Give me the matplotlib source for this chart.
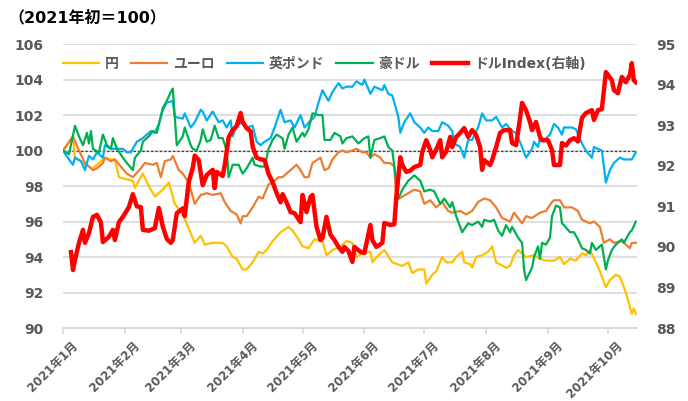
import numpy as np
import pandas as pd
import matplotlib
matplotlib.use("Agg")
import matplotlib.pyplot as plt
import matplotlib.dates as mdates
import matplotlib.transforms as mtransforms

plt.rcParams['font.family'] = ['DejaVu Sans', 'Noto Sans CJK JP']

# days counted from 2021-01-01
yen_day = [0, 5, 6, 9, 11, 15, 19, 21, 24, 26,
           28, 31, 35, 36, 40, 43, 46, 50, 53, 56,
           60, 63, 66, 69, 71, 75, 80, 82, 85, 87,
           90, 92, 95, 98, 100, 102, 105, 109, 113, 115,
           118, 120, 123, 126, 130, 132, 135, 139, 142, 145,
           147, 150, 154, 155, 158, 161, 165, 170, 173, 175,
           178, 181, 182, 185, 187, 190, 192, 195, 197, 200,
           201, 204, 205, 207, 210, 213, 215, 217, 222, 224,
           226, 228, 232, 236, 239, 242, 246, 249, 251, 254,
           257, 260, 262, 264, 267, 269, 272, 274, 277, 279,
           282, 285, 286, 287]
yen = [100, 100.8, 99.6, 99.4, 99.2, 99.0, 99.4, 99.6, 99.5, 99.5,
       98.5, 98.4, 98.3, 97.9, 98.7, 98.0, 97.4, 97.8, 98.2, 97.0,
       96.4, 95.6, 94.8, 95.2, 94.7, 94.8, 94.8, 94.6, 94.0, 93.9,
       93.3, 93.3, 93.7, 94.3, 94.2, 94.4, 94.9, 95.4, 95.7, 95.5,
       95.0, 94.6, 94.5, 95.0, 94.9, 94.1, 94.4, 94.6, 94.9, 94.8,
       94.0, 94.2, 94.3, 93.7, 94.1, 94.4, 93.7, 93.5, 93.7, 93.1,
       93.3, 93.3, 92.5, 93.0, 93.2, 94.0, 93.7, 93.7, 94.0, 94.3,
       93.7, 93.6, 93.4, 94.0, 94.1, 94.3, 94.6, 93.7, 93.4, 93.5,
       94.1, 94.4, 94.0, 94.1, 93.9, 93.8, 93.8, 94.0, 93.6, 93.9,
       93.8, 94.2, 94.1, 94.4, 93.7, 93.2, 92.3, 92.7, 93.0, 92.9,
       92.0, 90.8, 91.1, 90.8]

eur_day = [0, 5, 8, 11, 15, 17, 20, 21, 24, 26,
           29, 32, 35, 39, 41, 45, 47, 49, 51, 54,
           55, 58, 60, 63, 66, 69, 72, 75, 79, 81,
           84, 87, 89, 90, 92, 95, 98, 100, 103, 105,
           108, 110, 114, 117, 119, 121, 123, 125, 129, 131,
           133, 135, 138, 140, 142, 145, 147, 150, 152, 154,
           156, 159, 161, 164, 166, 167, 170, 173, 176, 179,
           181, 184, 187, 190, 193, 195, 199, 202, 205, 208,
           211, 214, 217, 220, 224, 226, 230, 232, 235, 239,
           242, 245, 246, 249, 251, 255, 258, 260, 264, 266,
           269, 271, 274, 276, 280, 282, 284, 285, 287]
eur = [100, 100.8, 100.0, 99.3, 98.9, 99.0, 99.3, 99.6, 99.4, 99.5,
       99.1, 98.7, 98.5, 99.0, 99.3, 99.2, 99.3, 98.5, 99.4, 99.5,
       99.7, 98.9, 98.7, 98.2, 97.0, 97.5, 97.6, 97.5, 97.6, 97.1,
       96.6, 96.4, 95.9, 96.3, 96.3, 96.8, 97.4, 97.3, 98.1, 98.2,
       98.5, 98.5, 98.9, 99.2, 98.9, 98.5, 98.5, 99.3, 99.6, 98.9,
       99.0, 99.5, 99.9, 100.0, 99.9, 100.0, 100.1, 99.9, 99.9, 99.6,
       99.8, 99.6, 99.3, 99.3, 99.1, 97.2, 97.4, 97.6, 97.8, 97.7,
       97.0, 97.2, 96.8, 97.1, 96.6, 96.5, 96.6, 96.4, 96.6, 97.1,
       97.3, 97.2, 96.8, 96.2, 96.0, 96.5, 95.9, 96.3, 96.2, 96.5,
       96.6, 97.1, 97.2, 97.2, 96.8, 96.8, 96.6, 96.1, 95.9, 96.0,
       95.7, 94.8, 95.0, 94.8, 94.9, 94.7, 94.5, 94.8, 94.8]

gbp_day = [0, 3, 5, 6, 9, 11, 13, 15, 17, 20,
           21, 24, 27, 30, 32, 34, 37, 40, 42, 44,
           46, 48, 50, 52, 55, 56, 60, 61, 64, 66,
           69, 70, 72, 75, 78, 80, 82, 84, 85, 87,
           90, 92, 95, 97, 99, 101, 104, 106, 109, 111,
           114, 116, 119, 121, 124, 126, 128, 130, 133, 135,
           138, 140, 142, 145, 147, 150, 151, 154, 156, 160,
           161, 163, 165, 168, 169, 171, 174, 176, 179, 181,
           183, 185, 188, 190, 193, 195, 196, 199, 201, 203,
           205, 208, 210, 212, 215, 217, 219, 220, 222, 225,
           227, 230, 232, 235, 236, 238, 239, 241, 244, 246,
           248, 250, 251, 255, 257, 260, 262, 265, 266, 268,
           270, 271, 272, 274, 276, 279, 281, 285, 287]
gbp = [100, 99.5, 99.2, 99.6, 99.4, 98.9, 99.7, 99.5, 99.9, 99.6,
       100.3, 100.1, 100.1, 100.1, 99.9, 99.9, 100.5, 100.7, 100.9, 101.1,
       101.0, 101.5, 102.3, 102.7, 102.8, 101.9, 101.8, 102.1, 101.3, 101.6,
       102.3, 102.2, 101.7, 102.2, 101.6, 101.7, 101.3, 101.7, 100.8, 101.4,
       101.6, 101.3, 101.4, 100.5, 100.3, 100.5, 100.7, 101.3, 102.3, 101.6,
       101.7, 101.3, 102.0, 101.3, 101.7, 101.9, 102.7, 103.4, 102.8, 103.3,
       103.8, 103.5, 103.6, 103.6, 103.9, 103.7, 104.0, 103.2, 103.6, 103.4,
       103.7, 103.2, 103.1, 101.9, 101.0, 101.6, 102.1, 101.6, 101.3, 101.0,
       101.3, 101.1, 101.1, 101.6, 101.4, 101.1, 100.4, 100.2, 99.6, 100.6,
       100.6, 101.3, 102.1, 101.7, 101.7, 101.9, 101.5, 101.3, 101.5, 101.1,
       101.0, 100.2, 99.6, 100.1, 100.5, 100.2, 100.7, 100.6, 100.9, 101.5,
       101.3, 100.9, 101.3, 101.3, 101.2, 100.4, 100.0, 99.6, 100.2, 100.1,
       100.0, 99.1, 98.2, 98.9, 99.3, 99.6, 99.5, 99.5, 99.9]

aud_day = [0, 3, 6, 8, 10, 12, 13, 14, 15, 18,
           20, 22, 24, 25, 27, 30, 32, 35, 36, 39,
           40, 43, 45, 47, 50, 52, 54, 55, 57, 60,
           61, 64, 65, 67, 69, 70, 72, 74, 76, 78,
           80, 82, 83, 85, 88, 90, 92, 95, 96, 99,
           101, 103, 105, 107, 110, 111, 113, 115, 117, 120,
           121, 123, 125, 128, 130, 131, 134, 136, 139, 140,
           142, 145, 148, 151, 153, 154, 156, 159, 161, 163,
           165, 166, 168, 170, 173, 176, 179, 181, 184, 186,
           189, 191, 194, 195, 197, 200, 203, 205, 208, 210,
           211, 214, 216, 218, 220, 222, 224, 225, 228, 230,
           231, 232, 235, 236, 238, 239, 240, 242, 244, 245,
           247, 249, 250, 251, 254, 256, 258, 260, 262, 264,
           265, 267, 270, 272, 273, 275, 277, 280, 281, 284,
           285, 287]
aud = [100, 99.8, 101.4, 100.8, 100.3, 101.0, 100.4, 101.1, 100.1, 99.9,
       100.9, 100.3, 100.1, 100.7, 100.1, 99.6, 99.3, 98.9, 99.6, 100.0,
       100.5, 100.8, 101.1, 101.0, 102.4, 102.8, 103.3, 103.5, 100.3, 100.8,
       101.3, 100.3, 100.1, 100.0, 100.6, 101.2, 100.5, 100.6, 101.4, 100.7,
       100.7, 100.0, 98.5, 99.2, 99.2, 98.7, 99.0, 99.6, 99.2, 99.1,
       99.1, 100.1, 100.6, 100.9, 100.7, 100.1, 100.9, 101.3, 100.5, 101.0,
       100.8, 101.2, 102.1, 102.0, 102.0, 100.6, 100.6, 101.0, 100.8, 100.4,
       100.7, 100.8, 100.4, 100.7, 100.8, 99.6, 100.6, 100.7, 100.8, 100.2,
       100.0, 99.1, 97.3, 97.8, 98.3, 98.6, 98.3, 97.7, 97.8, 97.7,
       97.0, 97.3, 96.8, 97.1, 96.3, 95.4, 95.9, 95.8, 96.0, 95.7,
       96.1, 96.0, 96.1, 95.5, 95.2, 95.8, 95.4, 95.7, 95.1, 94.8,
       93.3, 92.7, 93.4, 94.0, 94.6, 93.9, 94.8, 94.7, 95.1, 96.3,
       96.9, 96.8, 95.9, 95.8, 95.4, 95.4, 95.0, 94.5, 94.4, 94.2,
       94.8, 94.4, 94.7, 93.3, 93.8, 94.4, 94.7, 95.0, 94.8, 95.4,
       95.5, 96.0]

dxy_day = [4, 5, 6, 8, 10, 11, 13, 15, 17, 19,
           20, 23, 25, 26, 28, 30, 33, 35, 37, 39,
           40, 43, 46, 48, 50, 52, 54, 55, 57, 60,
           61, 63, 65, 66, 68, 70, 72, 75, 76, 77,
           80, 81, 83, 85, 87, 89, 90, 92, 94, 95,
           97, 99, 101, 103, 105, 107, 109, 110, 112, 114,
           116, 119, 120, 121, 122, 124, 125, 127, 129, 130,
           132, 134, 136, 138, 140, 141, 143, 145, 146, 149,
           151, 154, 155, 157, 160, 161, 164, 166, 167, 169,
           170, 172, 174, 176, 179, 180, 182, 184, 185, 187,
           189, 190, 192, 194, 195, 197, 199, 201, 203, 205,
           207, 209, 210, 211, 214, 215, 217, 219, 221, 224,
           225, 227, 229, 230, 232, 234, 235, 237, 239, 240,
           243, 245, 246, 249, 250, 252, 254, 256, 258, 260,
           262, 265, 266, 268, 270, 272, 275, 276, 278, 280,
           282, 284, 285, 286, 287]
dxy = [89.87, 89.43, 89.68, 90.1, 90.42, 90.1, 90.34, 90.74, 90.79, 90.6,
       90.12, 90.25, 90.42, 90.17, 90.61, 90.74, 90.98, 91.3, 91.0, 90.98,
       90.42, 90.4, 90.46, 90.96, 90.5, 90.2, 90.1, 90.17, 90.83, 90.95,
       90.76, 91.6, 91.95, 92.25, 92.14, 91.52, 91.77, 91.9, 91.45, 91.85,
       91.75, 92.0, 92.7, 92.88, 92.98, 93.3, 93.08, 92.93, 92.85, 92.48,
       92.2, 92.16, 92.14, 91.8, 91.6, 91.33, 91.1, 91.3, 91.1, 90.86,
       90.83, 90.61, 91.28, 91.08, 90.86, 91.23, 91.28, 90.5, 90.17, 90.22,
       90.74, 90.3, 90.17, 90.0, 89.88, 90.0, 89.9, 89.63, 90.0, 89.88,
       89.85, 90.54, 90.17, 90.0, 90.1, 90.59, 90.54, 90.56, 91.23, 92.21,
       92.02, 91.85, 91.88, 91.97, 92.02, 92.34, 92.63, 92.39, 92.21, 92.4,
       92.63, 92.21, 92.35, 92.71, 92.46, 92.71, 92.81, 92.93, 92.71, 92.88,
       92.76, 92.46, 91.9, 92.14, 92.02, 92.14, 92.46, 92.81, 92.88, 92.88,
       92.56, 92.51, 93.18, 93.55, 93.37, 93.08, 92.88, 93.08, 92.71, 92.63,
       92.63, 92.39, 92.02, 92.02, 92.56, 92.5, 92.63, 92.68, 92.6, 93.18,
       93.3, 93.37, 93.13, 93.37, 93.4, 94.31, 94.11, 93.87, 93.79, 94.19,
       94.06, 94.24, 94.53, 94.11, 94.06]

series = [
    ("円", yen_day, yen, "#FFC000"),
    ("ユーロ", eur_day, eur, "#ED7D31"),
    ("英ポンド", gbp_day, gbp, "#00B0F0"),
    ("豪ドル", aud_day, aud, "#00B050"),
]

start = pd.Timestamp("2021-01-01")


def to_dates(days):
    return start + pd.to_timedelta(days, unit="D")


gray = "#595959"
fig = plt.figure(figsize=(6.88, 4.01), dpi=100)
ax = fig.add_axes([0.0916, 0.182, 0.834, 0.708])
ax2 = ax.twinx()

handles = []
for name, d, v, c in series:
    h, = ax.plot(to_dates(d), v, color=c, lw=1.6, label=name)
    handles.append(h)
h, = ax2.plot(to_dates(dxy_day), dxy, color="#FF0000", lw=3.2, label="ドルIndex(右軸)")
handles.append(h)

ax.axhline(100, color="#404040", lw=0.9, ls=(0, (2, 1.5)), zorder=1)

ax.set_ylim(90, 106)
ax.set_yticks(range(90, 107, 2))
ax2.set_ylim(88, 95)
ax2.set_yticks(range(88, 96))
ax.set_xlim(start, start + pd.Timedelta(days=287.5))
ax.xaxis.set_major_locator(mdates.MonthLocator())
ax.xaxis.set_major_formatter(mdates.DateFormatter("%Y年%-m月"))

ax.grid(axis="y", color="#D9D9D9", lw=1.2)
ax.set_axisbelow(True)
for a in (ax, ax2):
    for s in ("top", "left", "right"):
        a.spines[s].set_visible(False)
    a.spines["bottom"].set_color("#D9D9D9")
    a.spines["bottom"].set_linewidth(1.2)

ax.tick_params(axis="y", length=0, pad=14, labelsize=10, labelcolor=gray)
ax2.tick_params(axis="y", length=0, pad=14, labelsize=10, labelcolor=gray)
ax.tick_params(axis="x", length=4, color="#D9D9D9", width=1.2,
               labelsize=8.6, labelcolor=gray, pad=3)
for lab in ax.get_yticklabels() + ax2.get_yticklabels():
    lab.set_fontweight("bold")
shift = mtransforms.ScaledTranslation(6 / 72, -1 / 72, fig.dpi_scale_trans)
for lab in ax.get_xticklabels():
    lab.set_fontweight("bold")
    lab.set_rotation(45)
    lab.set_ha("right")
    lab.set_va("top")
    lab.set_rotation_mode("anchor")
    lab.set_transform(lab.get_transform() + shift)

leg = ax2.legend(handles=handles, loc="upper left", bbox_to_anchor=(-0.022, 1.0),
                 ncol=5, frameon=False, handlelength=2.6, handletextpad=0.4,
                 columnspacing=0.9, prop={"size": 10, "weight": "bold"})
for t in leg.get_texts():
    t.set_color(gray)

fig.text(0.012, 0.955, "（2021年初＝100）", fontsize=11.5, fontweight="bold",
         color="black", va="center", ha="left")

fig.savefig("out.png", dpi=100)
